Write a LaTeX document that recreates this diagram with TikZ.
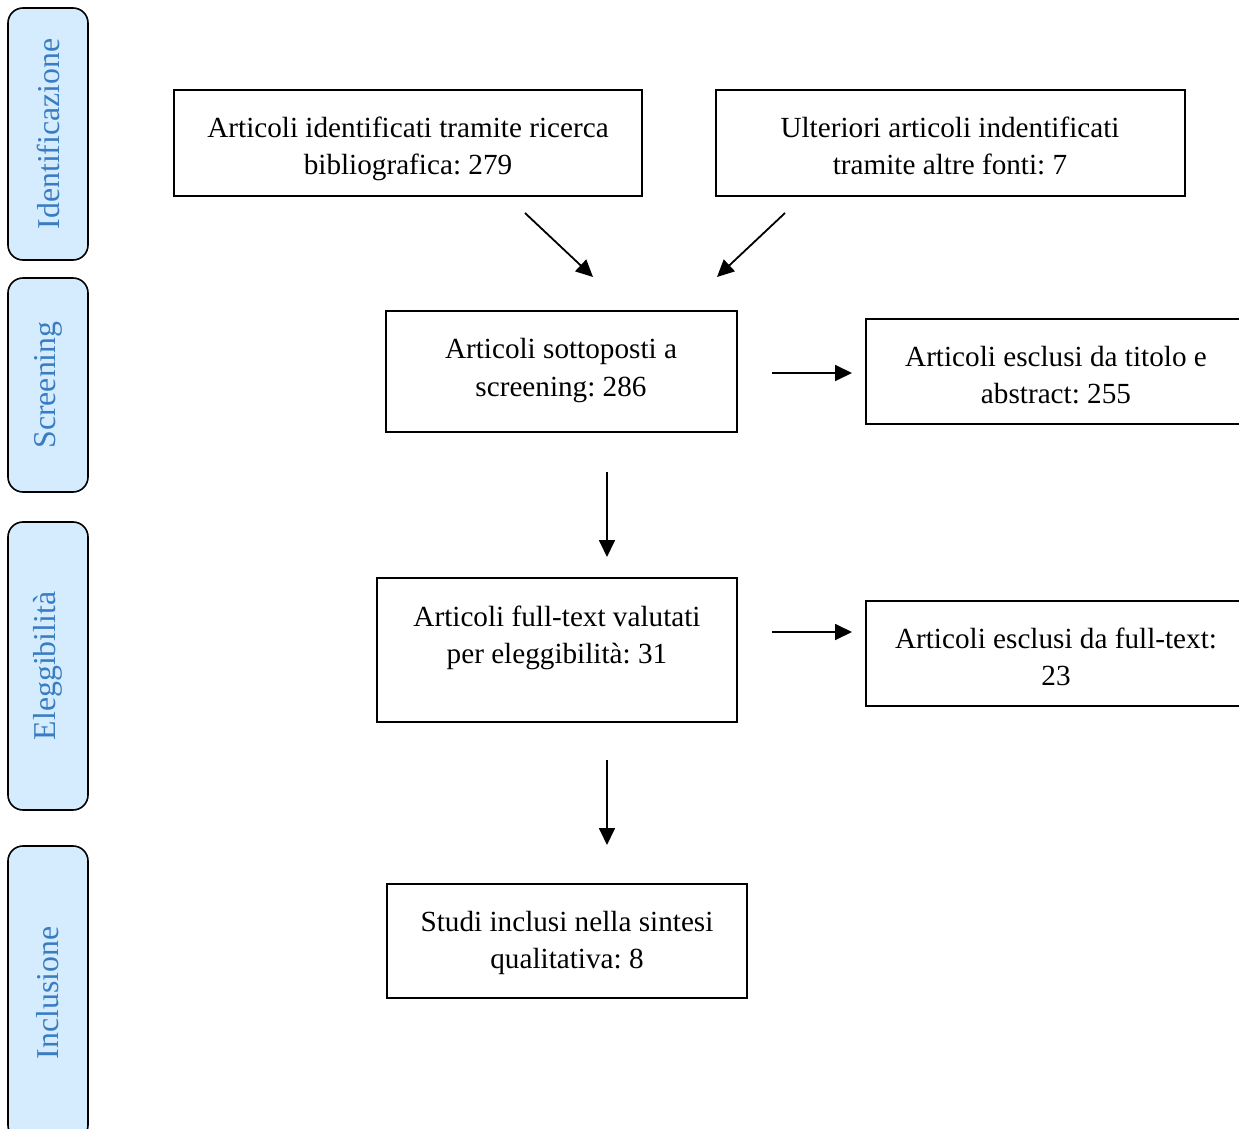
\documentclass[tikz,border=0pt]{standalone}
\usepackage{fontspec}
\setmainfont{Liberation Serif}
\frenchspacing
\usetikzlibrary{arrows.meta}
\definecolor{sidefill}{RGB}{212,236,253}
\definecolor{sidetext}{RGB}{58,124,194}
\tikzset{
  box/.style={draw=black, line width=0.9pt, rectangle, inner sep=0pt},
  txt/.style={align=center, inner sep=0pt, font=\fontsize{14.6}{18.6}\selectfont},
  side/.style={draw=black, line width=0.8pt, fill=sidefill, rounded corners=7.5pt,
    rotate=90, minimum height=40pt, inner sep=0pt, text=sidetext,
    font=\fontsize{15.9}{19}\selectfont},
  arr/.style={line width=0.9pt, -{Triangle[length=8.5pt,width=8pt]}}
}
\begin{document}
\begin{tikzpicture}[x=0.5pt,y=-0.5pt]
\useasboundingbox (0,0) rectangle (1239,1129);
\clip (0,0) rectangle (1239,1129);
\fill[white] (0,0) rectangle (1239,1129);

% side phase labels
\node[side, minimum width=126pt] (s1) at (48,134) {Identificazione};
\node[side, minimum width=107pt] (s2) at (48,385) {Screening};
\node[side, minimum width=144pt] (s3) at (48,666) {Eleggibilità};
\node[side, minimum width=147pt] (s4) at (48,993) {Inclusione};

% boxes
\node[box, minimum width=234pt, minimum height=53pt] (A) at (408,143) {};
\node[txt] (At) at (408,149) {Articoli identificati tramite ricerca\\bibliografica: 279};
\node[box, minimum width=234.5pt, minimum height=53pt] (B) at (950.5,143) {};
\node[txt] (Bt) at (950,146) {Ulteriori articoli indentificati\\tramite altre fonti: 7};
\node[box, minimum width=175.5pt, minimum height=60.5pt] (C) at (561.5,371.5) {};
\node[txt] (Ct) at (561,370.5) {Articoli sottoposti a\\screening: 286};
\node[box, minimum width=190pt, minimum height=52.5pt] (D) at (1056,371.5) {};
\node[txt] (Dt) at (1056,375) {Articoli esclusi da titolo e\\abstract: 255};
\node[box, minimum width=180pt, minimum height=72pt] (E) at (557,650) {};
\node[txt] (Et) at (557,638) {Articoli full-text valutati\\per eleggibilità: 31};
\node[box, minimum width=190pt, minimum height=52.5pt] (F) at (1056,653.5) {};
\node[txt] (Ft) at (1056,657) {Articoli esclusi da full-text:\\23};
\node[box, minimum width=180pt, minimum height=57pt] (G) at (567,941) {};
\node[txt] (Gt) at (567,943) {Studi inclusi nella sintesi\\qualitativa: 8};

% arrow end points
\coordinate (a1) at (525,213);
\coordinate (a2) at (593,277);
\coordinate (b1) at (785,213);
\coordinate (b2) at (717,277);
\coordinate (c1) at (772,373);
\coordinate (c2) at (852,373);
\coordinate (d1) at (607,472);
\coordinate (d2) at (607,557);
\coordinate (e1) at (772,632);
\coordinate (e2) at (852,632);
\coordinate (f1) at (607,760);
\coordinate (f2) at (607,845);

\draw[arr] (a1) -- (a2);
\draw[arr] (b1) -- (b2);
\draw[arr] (c1) -- (c2);
\draw[arr] (d1) -- (d2);
\draw[arr] (e1) -- (e2);
\draw[arr] (f1) -- (f2);
\end{tikzpicture}
\end{document}
